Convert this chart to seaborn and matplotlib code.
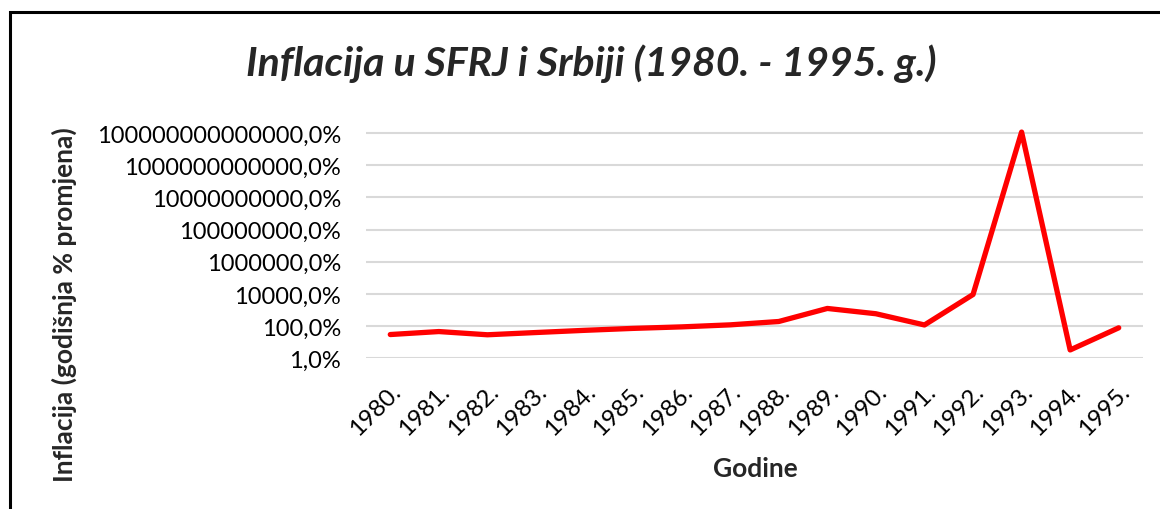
import matplotlib
matplotlib.use("Agg")
import matplotlib.pyplot as plt
import matplotlib.ticker as mticker
from matplotlib.patches import Rectangle
import seaborn as sns
import pandas as pd

years = ["1980.", "1981.", "1982.", "1983.", "1984.", "1985.", "1986.", "1987.",
         "1988.", "1989.", "1990.", "1991.", "1992.", "1993.", "1994.", "1995."]
inflation = [30.0, 46.0, 29.0, 40.0, 54.7, 72.3, 89.8, 120.0,
             194.0, 1256.0, 588.0, 118.0, 9237.0, 1.16e14, 3.3, 78.6]
ytick_vals = [1, 1e2, 1e4, 1e6, 1e8, 1e10, 1e12, 1e14]
ytick_labels = ["1,0%", "100,0%", "10000,0%", "1000000,0%", "100000000,0%",
                "10000000000,0%", "1000000000000,0%", "100000000000000,0%"]

title = "Inflacija u SFRJ i Srbiji (1980. - 1995. g.)"
xlabel = "Godine"
ylabel = "Inflacija (godišnja % promjena)"

sns.set_theme(style="white")
plt.rcParams["font.family"] = ["Lato", "DejaVu Sans"]

df = pd.DataFrame({"year": years, "value": inflation})

fig = plt.figure(figsize=(11.6, 5.1), dpi=100)
ax = fig.add_axes([366 / 1160, 1 - 359.3 / 510, (1143 - 366) / 1160, (359.3 - 118) / 510])

sns.lineplot(data=df, x="year", y="value", ax=ax, color="#FF0000",
             linewidth=3.8, sort=False, solid_joinstyle="round", solid_capstyle="round",
             clip_on=False)

ax.set_yscale("log")
ax.set_ylim(1, 1e15)
ax.set_xlim(-0.5, len(years) - 0.5)
ax.yaxis.set_major_locator(mticker.FixedLocator(ytick_vals))
ax.yaxis.set_minor_locator(mticker.NullLocator())
ax.set_yticks(ytick_vals)
ax.set_yticklabels(ytick_labels, fontsize=17, color="#000000")
ax.set_xticks(range(len(years)))
ax.set_xticklabels(years, rotation=45, ha="right", rotation_mode="anchor",
                   fontsize=17.5, color="#000000")
ax.tick_params(axis="y", length=0, pad=18)
ax.tick_params(axis="x", length=0, pad=16)
ax.grid(axis="y", color="#D9D9D9", linewidth=1.5)
ax.grid(axis="x", visible=False)
for s in ax.spines.values():
    s.set_visible(False)

ax.set_xlabel("")
ax.set_ylabel("")
fig.text(755 / 1160, 1 - 469 / 510, xlabel, ha="center", va="center",
         fontsize=19, fontweight="bold")
fig.text(64 / 1160, 1 - 305 / 510, ylabel, ha="center", va="center",
         rotation=90, fontsize=19, fontweight="bold")
fig.text(591 / 1160, 1 - 64 / 510, title, ha="center", va="center",
         fontsize=29.5, fontweight="bold", fontstyle="italic")

border = Rectangle((10 / 1160, -0.2), 1.2, 1 - 13 / 510 + 0.2,
                   transform=fig.transFigure, fill=False, edgecolor="black",
                   linewidth=2.2, clip_on=False)
fig.patches.append(border)

fig.savefig("out.png", dpi=100)
